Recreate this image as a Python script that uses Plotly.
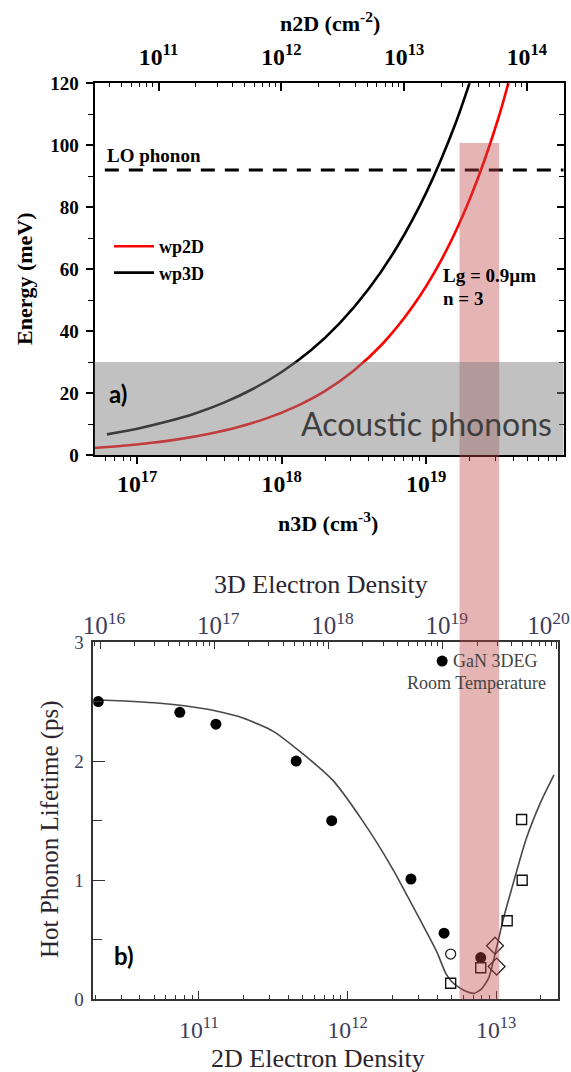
import plotly.graph_objects as go

W, H = 571, 1072
def px(x):
    return x / W
def py(y):
    return 1 - y / H

# ---------------- panel a) : plasmon energies vs 3D density ----------------
n3d_wp2d = [5.01e16, 7.94e16, 1.26e17, 2.0e17, 3.16e17, 5.01e17, 7.94e17, 1.26e18,
            2.0e18, 3.16e18, 5.01e18, 7.94e18, 1.26e19, 2.0e19, 3.16e19, 5.01e19]
e_wp2d = [2.27, 3.00, 3.95, 5.21, 6.87, 9.05, 11.9, 15.7,
          20.7, 27.3, 36.0, 47.5, 62.6, 82.6, 108.8, 143.5]
n3d_wp3d = [6.17e16, 1.0e17, 1.585e17, 2.512e17, 3.981e17, 6.31e17, 1.0e18,
            1.585e18, 2.512e18, 3.981e18, 6.31e18, 1.0e19, 1.585e19, 2.512e19]
e_wp3d = [6.65, 8.47, 10.7, 13.4, 16.9, 21.3, 26.8,
          33.7, 42.5, 53.5, 67.3, 84.7, 106.7, 134.3]
lo_phonon_meV = 92
acoustic_max_meV = 30
band_n3d = [1.7e19, 3.2e19]

# ---------------- panel b) : hot phonon lifetime vs 2D density ----------------
fit_n2d = [1.95e10, 3.16e10, 5.01e10, 7.94e10, 1.26e11, 2.0e11, 3.16e11, 5.01e11,
           7.94e11, 1.26e12, 2.0e12, 3.16e12, 3.98e12, 4.57e12, 5.01e12, 5.62e12,
           6.31e12, 7.08e12, 7.94e12, 8.91e12, 1.0e13, 1.12e13, 1.26e13, 1.585e13,
           2.0e13, 2.45e13]
fit_tau = [2.515, 2.505, 2.49, 2.465, 2.425, 2.36, 2.25, 2.06,
           1.84, 1.50, 1.10, 0.64, 0.40, 0.22, 0.15, 0.10,
           0.065, 0.05, 0.085, 0.18, 0.42, 0.68, 0.91, 1.34,
           1.66, 1.885]

dots_n2d = [2.10e10, 7.43e10, 1.30e11, 4.51e11, 7.82e11, 2.67e12, 4.46e12, 7.87e12]
dots_tau = [2.50, 2.41, 2.31, 2.00, 1.50, 1.01, 0.555, 0.35]
ocirc_n2d = [4.94e12]
ocirc_tau = [0.38]
squares_n2d = [4.94e12, 7.87e12, 1.186e13, 1.496e13, 1.483e13]
squares_tau = [0.135, 0.265, 0.66, 1.00, 1.51]
diamonds_n2d = [9.82e12, 1.007e13]
diamonds_tau = [0.45, 0.275]
key_n2d = [4.33e12]
key_tau = [2.84]

# top (3D density) axis of panel b: tick values and labels
n3d_b_ticks = [1e16, 1e17, 1e18, 1e19, 1e20]
n3d_b_labels = ["10<sup>16</sup>", "10<sup>17</sup>", "10<sup>18</sup>", "10<sup>19</sup>",
                "10<sup>20</sup>\u00a0\u00a0\u00a0\u00a0"]

SERIF = "Liberation Serif, Times New Roman, serif"
SANS = "Lato, Open Sans, sans-serif"
TXT_B = "#2b2530"
TICK_B = "#3d3d5c"

fig = go.Figure()

# panel a traces
fig.add_trace(go.Scatter(x=n3d_wp2d, y=e_wp2d, mode="lines", name="wp2D",
                         line=dict(color="#ff0000", width=2.6, shape="spline", smoothing=0.8),
                         xaxis="x", yaxis="y"))
fig.add_trace(go.Scatter(x=n3d_wp3d, y=e_wp3d, mode="lines", name="wp3D",
                         line=dict(color="#000000", width=2.6, shape="spline", smoothing=0.8),
                         xaxis="x", yaxis="y"))
# empty traces so that the secondary (top / right) axes get drawn
for xa, ya in (("x2", "y"), ("x", "y2"), ("x4", "y3")):
    fig.add_trace(go.Scatter(x=[], y=[], mode="lines", showlegend=False,
                             hoverinfo="skip", xaxis=xa, yaxis=ya))

# panel b traces
fig.add_trace(go.Scatter(x=fit_n2d, y=fit_tau, mode="lines", showlegend=False,
                         line=dict(color="#484848", width=1.6, shape="spline", smoothing=0.6),
                         xaxis="x3", yaxis="y3"))
fig.add_trace(go.Scatter(x=dots_n2d, y=dots_tau, mode="markers", showlegend=False,
                         marker=dict(symbol="circle", size=11, color="#000000"),
                         xaxis="x3", yaxis="y3"))
fig.add_trace(go.Scatter(x=key_n2d, y=key_tau, mode="markers", showlegend=False,
                         marker=dict(symbol="circle", size=11, color="#000000"),
                         xaxis="x3", yaxis="y3"))
fig.add_trace(go.Scatter(x=ocirc_n2d, y=ocirc_tau, mode="markers", showlegend=False,
                         marker=dict(symbol="circle-open", size=10, color="#222222",
                                     line=dict(width=1.3)),
                         xaxis="x3", yaxis="y3"))
fig.add_trace(go.Scatter(x=squares_n2d, y=squares_tau, mode="markers", showlegend=False,
                         marker=dict(symbol="square-open", size=10, color="#111111",
                                     line=dict(width=1.4)),
                         xaxis="x3", yaxis="y3"))
fig.add_trace(go.Scatter(x=diamonds_n2d, y=diamonds_tau, mode="markers", showlegend=False,
                         marker=dict(symbol="diamond-open", size=13, color="#222222",
                                     line=dict(width=1.3)),
                         xaxis="x3", yaxis="y3"))

boldtick = dict(family=SERIF, size=19, color="#000000", weight="bold")
regtick = dict(family=SERIF, size=19, color=TICK_B)

fig.update_layout(
    width=W, height=H,
    margin=dict(l=0, r=0, t=0, b=0, autoexpand=False),
    paper_bgcolor="white", plot_bgcolor="rgba(0,0,0,0)",
    showlegend=True,
    legend=dict(x=px(109), y=py(228), xanchor="left", yanchor="top",
                bgcolor="rgba(0,0,0,0)", tracegroupgap=0, itemwidth=40,
                font=dict(family=SERIF, size=18, color="#000000", weight="bold")),
    xaxis=dict(domain=[px(94.5), px(563.5)], anchor="y", type="log", automargin=False,
               range=[16.7045, 19.95], dtick=1, exponentformat="power",
               ticks="outside", ticklen=7, tickwidth=1.5, tickcolor="#000",
               minor=dict(ticks="outside", ticklen=4, tickwidth=1.2, tickcolor="#000", dtick="D1"),
               showline=True, linewidth=2, linecolor="#000", showgrid=False, zeroline=False,
               tickfont=boldtick),
    xaxis2=dict(overlaying="x", side="top", anchor="y", type="log", automargin=False,
                range=[10.478, 14.298], dtick=1, exponentformat="power",
                ticks="inside", ticklen=8, tickwidth=1.5, tickcolor="#000",
                minor=dict(ticks="inside", ticklen=4, tickwidth=1.2, tickcolor="#000", dtick="D1"),
                showline=True, linewidth=2, linecolor="#000", showgrid=False, zeroline=False,
                ticklabelstandoff=8, tickfont=boldtick),
    yaxis=dict(domain=[py(455), py(83.3)], anchor="x", range=[0, 120], dtick=20,
               automargin=False,
               ticks="outside", ticklen=7, tickwidth=1.5, tickcolor="#000",
               minor=dict(ticks="outside", ticklen=5, tickwidth=1.2, tickcolor="#000", dtick=10),
               showline=True, linewidth=2, linecolor="#000", showgrid=False, zeroline=False,
               ticklabelstandoff=3, tickfont=boldtick),
    yaxis2=dict(overlaying="y", side="right", anchor="x", range=[0, 120], dtick=20,
                automargin=False,
                ticks="inside", ticklen=7, tickwidth=1.5, tickcolor="#000",
                minor=dict(ticks="inside", ticklen=5, tickwidth=1.2, tickcolor="#000", dtick=10),
                showticklabels=False, showline=True, linewidth=2, linecolor="#000",
                showgrid=False, zeroline=False),
    xaxis3=dict(domain=[px(93.3), px(558)], anchor="y3", type="log", automargin=False,
                range=[10.289, 13.416], dtick=1, exponentformat="power",
                ticks="inside", ticklen=9, tickwidth=1.3, tickcolor="#333",
                minor=dict(ticks="inside", ticklen=5, tickwidth=1.1, tickcolor="#333", dtick="D1"),
                showline=True, linewidth=1.5, linecolor="#333", showgrid=False, zeroline=False,
                ticklabelstandoff=9, tickfont=regtick),
    xaxis4=dict(overlaying="x3", side="top", anchor="y3", type="log", automargin=False,
                range=[15.941, 20.009], tickmode="array",
                tickvals=n3d_b_ticks, ticktext=n3d_b_labels,
                ticks="inside", ticklen=7, tickwidth=1.3, tickcolor="#333",
                minor=dict(ticks="inside", ticklen=4, tickwidth=1.1, tickcolor="#333", dtick="D1"),
                showline=True, linewidth=1.5, linecolor="#333", showgrid=False, zeroline=False,
                ticklabelstandoff=-4, ticklabelshift=4, ticklabeloverflow="allow",
                tickfont=dict(family=SERIF, size=25, color=TICK_B)),
    yaxis3=dict(domain=[py(999.3), py(642)], anchor="x3", range=[0, 3], dtick=1,
                automargin=False,
                ticks="inside", ticklen=12, tickwidth=1.3, tickcolor="#333",
                minor=dict(ticks="inside", ticklen=9, tickwidth=1.1, tickcolor="#333", dtick=0.5),
                showline=True, mirror=True, linewidth=1.5, linecolor="#333",
                showgrid=False, zeroline=False, ticklabelstandoff=4, tickfont=regtick),
)

# shapes: LO phonon line, highlight band, acoustic phonon band
fig.add_shape(type="line", xref="x domain", yref="y", x0=0.022, x1=1,
              y0=lo_phonon_meV, y1=lo_phonon_meV, layer="above",
              line=dict(color="#000", width=3, dash="14px,10px"))
fig.add_shape(type="rect", xref="x", yref="paper", x0=band_n3d[0], x1=band_n3d[1],
              y0=py(999.3), y1=py(143), layer="above", line=dict(width=0),
              fillcolor="rgba(190,70,70,0.4)")
fig.add_shape(type="rect", xref="x domain", yref="y", x0=0, x1=1,
              y0=0, y1=acoustic_max_meV, layer="above", line=dict(width=0),
              fillcolor="rgba(125,125,125,0.48)")

def ann(text, x, y, size, family=SERIF, color="#000", bold=False, xanchor="center",
        yanchor="middle", angle=0):
    fig.add_annotation(text=text, x=px(x), y=py(y), xref="paper", yref="paper",
                       showarrow=False, xanchor=xanchor, yanchor=yanchor, textangle=angle,
                       font=dict(family=family, size=size, color=color,
                                 weight="bold" if bold else "normal"))

ann("n2D (cm<sup>-2</sup>)", 330, 22, 22, bold=True)
ann("n3D (cm<sup>-3</sup>)", 328, 522, 22, bold=True)
ann("Energy (meV)", 25, 279, 22, bold=True, angle=-90)
ann("LO phonon", 105, 155, 19, bold=True, xanchor="left")
ann("Lg = 0.9µm", 441, 275, 19, bold=True, xanchor="left")
ann("n = 3", 441, 298, 19, bold=True, xanchor="left")
ann("a)", 118, 393, 24, family=SANS, bold=True)
ann("Acoustic phonons", 299, 423, 32, family=SANS, color="#3f3f3f", xanchor="left")

ann("3D Electron Density", 321, 584, 26, color=TXT_B)
ann("2D Electron Density", 318, 1058, 26, color=TXT_B)
ann("Hot Phonon Lifetime (ps)", 50, 829, 25, color=TXT_B, angle=-90)
ann("b)", 124, 955, 24, family=SANS, bold=True)
ann("GaN 3DEG", 451, 661, 18, color="#444", xanchor="left")
ann("Room Temperature", 405, 683, 18, color="#444", xanchor="left")

fig.write_html("out.html")
